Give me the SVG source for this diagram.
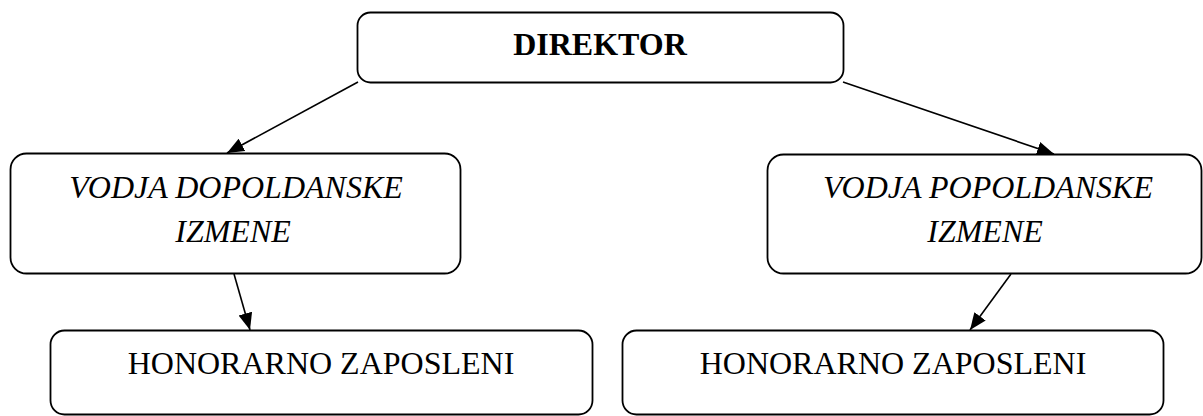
<svg xmlns="http://www.w3.org/2000/svg" width="1203" height="416" viewBox="0 0 1203 416">
<defs>
<style>
.box{fill:#fff;stroke:#000;stroke-width:1.8}
.t{font-family:"Liberation Serif","Times New Roman",serif;font-size:32px;fill:#000;text-anchor:middle}
.b{font-weight:bold}
.i{font-style:italic}
.c{stroke:#000;stroke-width:1.6;fill:none;marker-end:url(#ah)}
</style>
<marker id="ah" markerUnits="userSpaceOnUse" markerWidth="18" markerHeight="16" viewBox="0 0 18 16" refX="17" refY="8" orient="auto">
<path d="M0,1 L17,8 L0,15 z" fill="#000"/>
</marker>
</defs>
<g id="connectors">
<line class="c" x1="358" y1="82" x2="227" y2="153"/>
<line class="c" x1="843" y1="82" x2="1054" y2="154"/>
<line class="c" x1="234" y1="274" x2="250" y2="330"/>
<line class="c" x1="1011" y1="274" x2="970" y2="330"/>
</g>
<g id="direktor">
<rect class="box" x="357.5" y="12.5" width="486" height="70" rx="13"/>
<text class="t b" x="600" y="55">DIREKTOR</text>
</g>
<g id="vodja-dopoldanske">
<rect class="box" x="10.5" y="153.5" width="450" height="120" rx="16"/>
<text class="t i" x="236" y="198">VODJA DOPOLDANSKE</text>
<text class="t i" x="233" y="242">IZMENE</text>
</g>
<g id="vodja-popoldanske">
<rect class="box" x="767.5" y="154.5" width="434" height="119" rx="16"/>
<text class="t i" x="988" y="198">VODJA POPOLDANSKE</text>
<text class="t i" x="985" y="242">IZMENE</text>
</g>
<g id="honorarno-1">
<rect class="box" x="50.5" y="330.5" width="542" height="84" rx="14"/>
<text class="t" x="321" y="374">HONORARNO ZAPOSLENI</text>
</g>
<g id="honorarno-2">
<rect class="box" x="622.5" y="330.5" width="541" height="84" rx="14"/>
<text class="t" x="893" y="374">HONORARNO ZAPOSLENI</text>
</g>
</svg>
